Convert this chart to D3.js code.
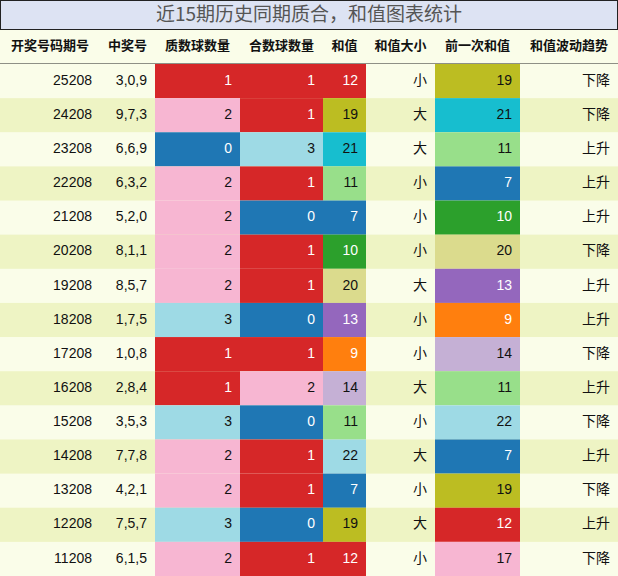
<!DOCTYPE html>
<head>
<meta charset="utf-8">
<script src="https://d3js.org/d3.v7.min.js"></script>
<style>body{margin:0;background:#fff}text{font-family:"Liberation Sans","Noto Sans CJK SC",sans-serif}</style>
</head>
<body>
<div id="container"></div>
<script>
// data
const title = "近15期历史同期质合，和值图表统计";
const headers = ["开奖号码期号","中奖号","质数球数量","合数球数量","和值","和值大小","前一次和值","和值波动趋势"];
const issues = ["25208","24208","23208","22208","21208","20208","19208","18208","17208","16208","15208","14208","13208","12208","11208"];
const numbers = ["3,0,9","9,7,3","6,6,9","6,3,2","5,2,0","8,1,1","8,5,7","1,7,5","1,0,8","2,8,4","3,5,3","7,7,8","4,2,1","7,5,7","6,1,5"];
const primeCount = [1,2,0,2,2,2,2,3,1,1,3,2,2,3,2];
const compCount = [1,1,3,1,0,1,1,0,1,2,0,1,1,0,1];
const sums = [12,19,21,11,7,10,20,13,9,14,11,22,7,19,12];
const sizes = ["小","大","大","小","小","小","大","小","小","大","小","大","小","大","小"];
const prevSums = [19,21,11,7,10,20,13,9,14,11,22,7,19,12,17];
const trends = ["下降","下降","上升","上升","上升","下降","上升","上升","下降","上升","下降","上升","下降","上升","下降"];

const countColor = {0:"#1f77b4",1:"#d62728",2:"#f7b6d2",3:"#9edae5"};
const sumColor = {7:"#1f77b4",9:"#ff7f0e",10:"#2ca02c",11:"#98df8a",12:"#d62728",13:"#9467bd",
  14:"#c5b0d5",17:"#f7b6d2",19:"#bcbd22",20:"#dbdb8d",21:"#17becf",22:"#9edae5"};
const darkFills = ["#1f77b4","#d62728","#2ca02c","#9467bd","#ff7f0e"];

const W = 618, H = 576, titleH = 30, headH = 34;
const colEdges = [0,100,155,240,323,366,435,520,618];

const svg = d3.select("#container").append("svg").attr("width", W).attr("height", H);

const y = d3.scaleBand().domain(d3.range(issues.length)).range([titleH + headH, H]);

// title
svg.append("rect").attr("x",0.5).attr("y",0.5).attr("width",W-1).attr("height",titleH-1)
  .attr("fill","#dde3f3").attr("stroke","#222");
svg.append("text").attr("x",W/2).attr("y",titleH/2+1).attr("text-anchor","middle")
  .attr("dominant-baseline","middle").attr("font-size",19).attr("fill","#555")
  .style("font-family","'Noto Sans CJK SC'").text(title);

// header
svg.append("rect").attr("x",0).attr("y",titleH).attr("width",W).attr("height",headH).attr("fill","#fafde9");
svg.selectAll(".hd").data(headers).join("text")
  .attr("x",(d,i)=>(colEdges[i]+colEdges[i+1])/2).attr("y",titleH+headH/2)
  .attr("text-anchor","middle").attr("dominant-baseline","middle")
  .attr("font-size",13).attr("font-weight","bold").attr("fill","#111").text(d=>d);
svg.append("line").attr("x1",0).attr("x2",W).attr("y1",titleH+headH).attr("y2",titleH+headH)
  .attr("stroke","#222").attr("stroke-width",1);

// rows: [text, fill, column]
const rows = issues.map((d,i)=>[
  [d,null],[numbers[i],null],
  [primeCount[i],countColor[primeCount[i]]],
  [compCount[i],countColor[compCount[i]]],
  [sums[i],sumColor[sums[i]]],
  [sizes[i],null],
  [prevSums[i],sumColor[prevSums[i]]],
  [trends[i],null]
].map((c,j)=>({v:c[0],fill:c[1],col:j})));

const g = svg.selectAll(".row").data(rows).join("g")
  .attr("transform",(d,i)=>`translate(0,${y(i)})`);
g.append("rect").attr("width",W).attr("height",y.bandwidth()+0.5)
  .attr("fill",(d,i)=>i%2? "#eef4c4":"#fafde9");

const cells = g.selectAll(".cell").data(d=>d).join("g");
cells.filter(d=>d.fill).append("rect")
  .attr("x",d=>colEdges[d.col]).attr("width",d=>colEdges[d.col+1]-colEdges[d.col])
  .attr("height",y.bandwidth()+0.5).attr("fill",d=>d.fill);
cells.append("text")
  .attr("x",d=>colEdges[d.col+1]-8).attr("y",y.bandwidth()/2)
  .attr("text-anchor","end").attr("dominant-baseline","middle").attr("font-size",14)
  .attr("fill",d=>darkFills.includes(d.fill)? "#fff":"#111").text(d=>d.v);
</script>
</body>
